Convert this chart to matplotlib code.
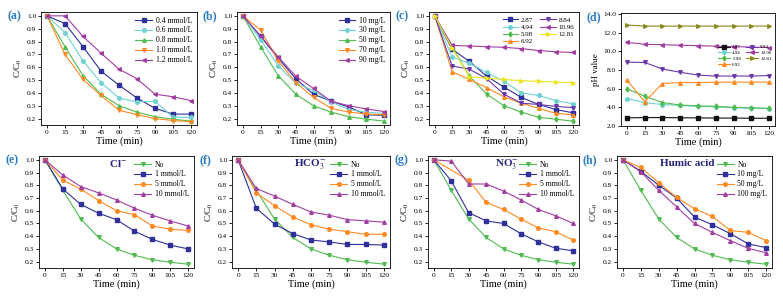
import matplotlib
matplotlib.use("Agg")
import matplotlib.pyplot as plt
import numpy as np

plt.rcParams['font.family'] = ['Liberation Serif', 'DejaVu Serif']
plt.rcParams['mathtext.fontset'] = 'stix'

time = [0, 15, 30, 45, 60, 75, 90, 105, 120]

# (a) dosage
a_labels = ["0.4 mmol/L", "0.6 mmol/L", "0.8 mmol/L", "1.0 mmol/L", "1.2 mmol/L"]
a_04 = [1.0, 0.94, 0.76, 0.57, 0.46, 0.36, 0.28, 0.235, 0.235]
a_06 = [1.0, 0.87, 0.65, 0.48, 0.36, 0.33, 0.335, 0.21, 0.21]
a_08 = [1.0, 0.76, 0.535, 0.39, 0.30, 0.25, 0.215, 0.195, 0.18]
a_10 = [1.0, 0.70, 0.505, 0.38, 0.265, 0.23, 0.20, 0.185, 0.175]
a_12 = [1.0, 1.0, 0.84, 0.71, 0.585, 0.51, 0.39, 0.37, 0.34]

# (b) initial concentration
b_labels = ["10 mg/L", "30 mg/L", "50 mg/L", "70 mg/L", "90 mg/L"]
b_10 = [1.0, 0.84, 0.67, 0.51, 0.39, 0.335, 0.29, 0.23, 0.225]
b_30 = [1.0, 0.815, 0.61, 0.475, 0.42, 0.33, 0.27, 0.25, 0.24]
b_50 = [1.0, 0.76, 0.535, 0.39, 0.30, 0.25, 0.215, 0.195, 0.18]
b_70 = [1.0, 0.89, 0.65, 0.48, 0.365, 0.28, 0.25, 0.235, 0.23]
b_90 = [1.0, 0.845, 0.68, 0.53, 0.435, 0.335, 0.30, 0.275, 0.255]

# (c) initial pH
ph_labels = ["2.87", "4.94", "5.98", "6.92", "8.84", "10.96", "12.81"]
c_287 = [1.0, 0.74, 0.645, 0.53, 0.445, 0.365, 0.31, 0.27, 0.245]
c_494 = [1.0, 0.68, 0.63, 0.56, 0.49, 0.40, 0.38, 0.34, 0.315]
c_598 = [1.0, 0.76, 0.53, 0.39, 0.30, 0.25, 0.21, 0.195, 0.18]
c_692 = [1.0, 0.565, 0.505, 0.44, 0.37, 0.32, 0.28, 0.24, 0.23]
c_884 = [1.0, 0.61, 0.585, 0.51, 0.39, 0.32, 0.31, 0.295, 0.285]
c_1096 = [1.0, 0.77, 0.765, 0.76, 0.755, 0.745, 0.73, 0.72, 0.715]
c_1281 = [1.0, 0.75, 0.525, 0.515, 0.505, 0.495, 0.49, 0.485, 0.48]

# (d) pH evolution
d_287 = [2.87, 2.9, 2.9, 2.88, 2.87, 2.85, 2.85, 2.83, 2.83]
d_494 = [4.94, 4.5, 4.3, 4.2, 4.1, 4.05, 3.95, 3.9, 3.85]
d_598 = [5.98, 5.2, 4.5, 4.25, 4.15, 4.1, 4.0, 3.95, 3.9]
d_692 = [6.92, 4.6, 6.55, 6.65, 6.65, 6.7, 6.7, 6.7, 6.7]
d_884 = [8.84, 8.8, 8.1, 7.75, 7.45, 7.35, 7.35, 7.35, 7.4]
d_1096 = [10.96, 10.75, 10.7, 10.65, 10.6, 10.55, 10.5, 10.45, 10.4]
d_1281 = [12.81, 12.7, 12.7, 12.7, 12.7, 12.7, 12.7, 12.7, 12.7]

# (e)-(h) co-existing substances
no_ion = [1.0, 0.76, 0.535, 0.39, 0.30, 0.25, 0.215, 0.195, 0.18]
ion_labels = ["No", "1 mmol/L", "5 mmol/L", "10 mmol/L"]
cl_1 = [1.0, 0.77, 0.65, 0.58, 0.53, 0.44, 0.375, 0.33, 0.30]
cl_5 = [1.0, 0.84, 0.77, 0.68, 0.60, 0.57, 0.48, 0.455, 0.445]
cl_10 = [1.0, 0.88, 0.79, 0.74, 0.685, 0.62, 0.565, 0.52, 0.48]
hco3_1 = [1.0, 0.62, 0.495, 0.42, 0.37, 0.355, 0.335, 0.335, 0.33]
hco3_5 = [1.0, 0.74, 0.64, 0.55, 0.49, 0.455, 0.435, 0.415, 0.415]
hco3_10 = [1.0, 0.775, 0.715, 0.65, 0.59, 0.565, 0.53, 0.52, 0.51]
no3_1 = [1.0, 0.835, 0.585, 0.52, 0.50, 0.42, 0.355, 0.305, 0.285]
no3_5 = [1.0, np.nan, 0.84, 0.665, 0.61, 0.535, 0.465, 0.435, 0.37]
no3_10 = [1.0, 0.99, 0.81, 0.81, 0.755, 0.685, 0.61, 0.56, 0.50]
ha_labels = ["No", "10 mg/L", "50 mg/L", "100 mg/L"]
ha_10 = [1.0, 0.91, 0.80, 0.70, 0.55, 0.49, 0.42, 0.34, 0.31]
ha_50 = [1.0, 0.94, 0.82, 0.705, 0.615, 0.555, 0.445, 0.43, 0.365]
ha_100 = [1.0, 0.905, 0.76, 0.63, 0.50, 0.43, 0.365, 0.305, 0.27]

blue = '#30309a'
cyan = '#70d2d2'
green = '#50bb50'
orange = '#ff8a22'
magenta = '#a23ea2'
violet = '#6a38a8'
yellow = '#ece41e'
olive = '#8a8a1e'
label_blue = '#2b7bbf'
title_blue = '#25257e'

fig = plt.figure(figsize=(7.83, 2.97), dpi=100)
W, H = 783, 297


def add_ax(x0, x1, y0, y1, tag):
    ax = fig.add_axes([x0 / W, 1 - y1 / H, (x1 - x0) / W, (y1 - y0) / H])
    # panel tag sits about 26 px left of the axes, level with its top
    fig.text((x0 - 27) / W, 1 - (y0 + 4) / H, tag, fontsize=8.5,
             fontweight='bold', color=label_blue, ha='center', va='center')
    return ax


def plot_series(ax, y, color, marker, label):
    y = np.array(y, dtype=float)
    ok = ~np.isnan(y)
    ax.plot(np.array(time)[ok], y[ok], color=color, marker=marker, ms=2.6,
            lw=0.8, label=label)


def style_axes(ax, ylabel="C/C$_0$", ylim=(0.15, 1.03), yticks=None, fmt="%.1f"):
    ax.set_xlim(-5, 125)
    ax.set_ylim(*ylim)
    ax.set_xticks(time)
    if yticks is None:
        yticks = np.arange(0.2, 1.01, 0.1)
    ax.set_yticks(yticks)
    ax.set_yticklabels([fmt % v for v in yticks])
    ax.tick_params(labelsize=5.3, length=2, width=0.6, pad=1.5)
    for s in ax.spines.values():
        s.set_linewidth(0.6)
    ax.set_xlabel("Time (min)", fontsize=7.5, labelpad=1)
    ax.set_ylabel(ylabel, fontsize=6.5, labelpad=2)


# (a)
ax = add_ax(41, 197, 12, 125, "(a)")
for y, c, m, l in zip([a_04, a_06, a_08, a_10, a_12],
                      [blue, cyan, green, orange, magenta],
                      ['s', 'o', '^', 'v', '<'], a_labels):
    plot_series(ax, y, c, m, l)
style_axes(ax)
ax.legend(loc='upper right', fontsize=5.5, frameon=False, handlelength=2.2,
          labelspacing=0.25, borderaxespad=0.2, handletextpad=0.5)

# (b)
ax = add_ax(237, 390, 12, 125, "(b)")
for y, c, m, l in zip([b_10, b_30, b_50, b_70, b_90],
                      [blue, cyan, green, orange, magenta],
                      ['s', 'o', '^', 'v', '<'], b_labels):
    plot_series(ax, y, c, m, l)
style_axes(ax)
ax.legend(loc='upper right', fontsize=5.5, frameon=False, handlelength=2.2,
          labelspacing=0.25, borderaxespad=0.2, handletextpad=0.5)

# (c)
ax = add_ax(429, 579, 12, 125, "(c)")
for y, c, m, l in zip([c_287, c_494, c_598, c_692, c_884, c_1096, c_1281],
                      [blue, cyan, green, orange, violet, magenta, yellow],
                      ['s', 'o', 'd', '^', 'v', '<', '>'], ph_labels):
    plot_series(ax, y, c, m, l)
style_axes(ax)
ax.legend(loc='upper right', fontsize=5, frameon=False, ncol=2, handlelength=2.2,
          labelspacing=0.2, borderaxespad=0.3, handletextpad=0.4, columnspacing=1.0)

# (d)
ax = add_ax(621, 775, 13, 126, "(d)")
for y, c, m, l in zip([d_287, d_494, d_598, d_692, d_884, d_1096, d_1281],
                      ['#111111', cyan, green, orange, violet, magenta, olive],
                      ['s', 'o', 'd', '^', 'v', '<', '>'], ph_labels):
    plot_series(ax, y, c, m, l)
style_axes(ax, ylabel="pH value", ylim=(2.0, 14.1),
           yticks=np.arange(2.0, 14.01, 2.0))
ax.legend(loc='upper right', bbox_to_anchor=(1.0, 0.75), fontsize=3.6,
          frameon=False, ncol=2, handlelength=2.4, labelspacing=0.25,
          borderaxespad=0.3, handletextpad=0.4, columnspacing=1.0)

# (e)-(h)
bottom = [
    ("(e)", (39, 194), [cl_1, cl_5, cl_10], ion_labels, r"Cl$^{-}$", 0.57),
    ("(f)", (232, 390), [hco3_1, hco3_5, hco3_10], ion_labels, r"HCO$_3^{-}$", 0.6),
    ("(g)", (428, 579), [no3_1, no3_5, no3_10], ion_labels, r"NO$_3^{-}$", 0.6),
    ("(h)", (617, 772), [ha_10, ha_50, ha_100], ha_labels, "Humic acid", 0.63),
]
for tag, (x0, x1), series, labels, title, tx in bottom:
    ax = add_ax(x0, x1, 156, 268, tag)
    plot_series(ax, no_ion, green, 'v', labels[0])
    for y, c, m, l in zip(series, [blue, orange, magenta], ['s', 'o', '^'], labels[1:]):
        plot_series(ax, y, c, m, l)
    style_axes(ax)
    ax.legend(loc='upper right', fontsize=5.5, frameon=False, handlelength=2.2,
              labelspacing=0.25, borderaxespad=0.2, handletextpad=0.5)
    ax.text(tx, 0.93, title, transform=ax.transAxes, fontsize=8,
            fontweight='bold', color=title_blue, ha='right', va='center')

fig.savefig("out.png", dpi=100)
